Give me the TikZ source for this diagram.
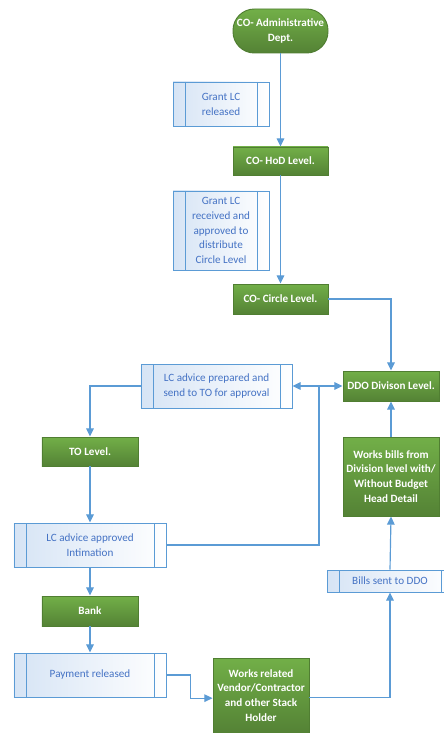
\documentclass[tikz,border=0pt]{standalone}
\usepackage{fontspec}
\setmainfont{Carlito}
\usetikzlibrary{arrows.meta}
\definecolor{greenlight}{RGB}{114,175,72}
\definecolor{greendark}{RGB}{84,130,53}
\definecolor{greenline}{RGB}{80,126,50}
\definecolor{bluefill}{RGB}{214,228,245}
\definecolor{blueline}{RGB}{91,155,213}
\definecolor{bluetext}{RGB}{68,114,196}
\tikzset{
  greenbox/.style={draw=greenline, line width=0.8pt, top color=greenlight, bottom color=greendark,
    text=white, font=\fontsize{9.5}{12.7}\selectfont\bfseries, align=center, inner sep=1pt},
  procbox/.style={draw=blueline, line width=0.8pt, left color=bluefill, right color=white,
    text=bluetext, font=\fontsize{9.5}{12.7}\selectfont, align=center, inner sep=1pt,
    path picture={
      \draw[blueline, line width=0.8pt] ([xshift=0.36cm]path picture bounding box.north west) -- ([xshift=0.36cm]path picture bounding box.south west);
      \draw[blueline, line width=0.8pt] ([xshift=-0.36cm]path picture bounding box.north east) -- ([xshift=-0.36cm]path picture bounding box.south east);}},
  flow/.style={draw=blueline, line width=1pt},
  arr/.style={flow, -{Triangle[length=7pt,width=6.5pt]}}
}
\begin{document}
\begin{tikzpicture}[x=0.03cm,y=-0.03cm]
\useasboundingbox (0,0) rectangle (443,733);
% top part
\node[greenbox, rounded corners=0.64cm, minimum width=2.85cm, minimum height=1.32cm] (admin) at (280.5,31) {CO- Administrative\\Dept.};
\node[procbox, minimum width=2.88cm, minimum height=1.32cm] (grantrel) at (221,104) {Grant LC\\released};
\node[greenbox, minimum width=2.85cm, minimum height=0.84cm] (hod) at (280.5,161) {CO- HoD Level.};
\node[procbox, minimum width=2.88cm, minimum height=2.37cm] (grantrec) at (221,230.5) {Grant LC\\received and\\approved to\\distribute\\Circle Level};
\node[greenbox, minimum width=2.85cm, minimum height=0.9cm] (circle) at (280.5,299) {CO- Circle Level.};
% middle part
\node[greenbox, minimum width=2.88cm, minimum height=0.9cm] (ddo) at (391,386) {DDO Divison Level.};
\node[procbox, minimum width=4.53cm, minimum height=1.32cm] (prepared) at (216.5,386) {LC advice prepared and\\send to TO for approval};
\node[greenbox, minimum width=2.88cm, minimum height=0.87cm] (tolevel) at (90,451.5) {TO Level.};
\node[greenbox, minimum width=2.88cm, minimum height=2.37cm] (worksbills) at (391,476.5) {Works bills from\\Division level with/\\Without Budget\\Head Detail};
\node[procbox, minimum width=4.56cm, minimum height=1.32cm] (approved) at (90,545) {LC advice approved\\Intimation};
% bottom part
\node[greenbox, minimum width=2.88cm, minimum height=0.9cm] (bank) at (90,611) {Bank};
\node[procbox, minimum width=4.56cm, minimum height=1.32cm] (payment) at (90,675) {Payment released};
\node[greenbox, minimum width=2.88cm, minimum height=2.25cm] (vendor) at (261,695.5) {Works related\\Vendor/Contractor\\and other Stack\\Holder};
\node[procbox, minimum width=3.78cm, minimum height=0.66cm] (billssent) at (390,581) {Bills sent to DDO};
\coordinate (junc) at (319,386);
% arrows
\draw[arr] (admin) -- (hod);
\draw[arr] (hod) -- (circle);
\draw[arr] (circle.east) -| (ddo.north);
\draw[arr] (junc) -- (ddo.west);
\draw[arr] (junc) -- (prepared.east);
\draw[flow] (approved.east) -| (junc);
\draw[arr] (prepared.west) -| (tolevel.north);
\draw[arr] (tolevel) -- (approved);
\draw[arr] (approved) -- (bank);
\draw[arr] (bank) -- (payment);
\draw[arr] (payment.east) -- ++(24,0) |- ([yshift=-0.08cm]vendor.west);
\draw[arr] ([yshift=-0.05cm]vendor.east) -| (billssent.south);
\draw[arr] (billssent.north) -- (worksbills.south);
\draw[arr] (worksbills.north) -- (ddo.south);
\end{tikzpicture}
\end{document}
